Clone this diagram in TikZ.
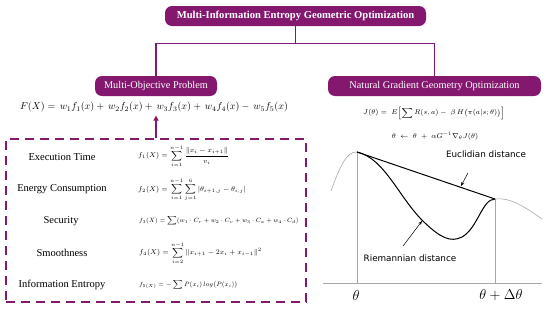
\documentclass[tikz,border=0pt]{standalone}
\usepackage{amsmath}
\usepackage{fontspec}
\setmainfont{Liberation Serif}
\newfontfamily\plotfont{DejaVu Sans}
\usepackage{tikz}
\usetikzlibrary{arrows.meta,positioning,calc}
\definecolor{plum}{HTML}{84186F}
\definecolor{axisgray}{HTML}{A8A8A8}

\begin{document}
\begin{tikzpicture}[x=1pt, y=-1pt,
    headbox/.style={rectangle, fill=plum, text=white, rounded corners=7pt, minimum height=20pt, inner sep=2pt, font=\fontsize{10.3}{12}\selectfont},
    dashbox/.style={rectangle, draw=plum, line width=2pt, dash pattern=on 9pt off 6pt},
    objlabel/.style={font=\fontsize{10.5}{12}\selectfont},
    objfun/.style={anchor=west, inner sep=0pt, font=\fontsize{6.8}{8}\selectfont},
    link/.style={draw=plum, line width=1.3pt},
    pointer/.style={-{Stealth[length=4pt,width=3pt]}, line width=0.5pt}
]
    \useasboundingbox (0,0) rectangle (550,309);

    % Header boxes
    \node[headbox, minimum width=261pt, font=\fontsize{10.6}{12}\selectfont\bfseries] (title) at (295.5,16) {Multi-Information Entropy Geometric Optimization};
    \node[headbox, minimum width=122pt] (mop) at (156,86) {Multi-Objective Problem};
    \node[headbox, minimum width=213pt] (ngo) at (434.5,86) {Natural Gradient Geometry Optimization};

    % Tree connections
    \draw[link] (title.south) -- ++(0,17) coordinate (split);
    \draw[link] (split) -| (mop.north);
    \draw[link] (split) -| (ngo.north);

    % Objective function
    \node[font=\fontsize{10}{12}\selectfont] (fx) at (154,107) {$F(X) = \, w_1 f_1(x) + \, w_2 f_2(x) + \, w_3 f_3(x) + \, w_4 f_4(x) - \, w_5 f_5(x)$};

    % Objectives box
    \node[dashbox, minimum width=300pt, minimum height=163pt] (objbox) at (156,220.5) {};
    \draw[link, -{Triangle[length=5pt,width=5pt]}] (objbox.north) -- (objbox.north |- fx.south);

    \node[objlabel] (obj1) at (62,157) {Execution Time};
    \node[objlabel] (obj2) at (62,189) {Energy Consumption};
    \node[objlabel] (obj3) at (61,221) {Security};
    \node[objlabel] (obj4) at (62,253) {Smoothness};
    \node[objlabel] (obj5) at (62,285) {Information Entropy};

    \node[objfun] (fn1) at (138,156) {$f_1(X) = \displaystyle\sum_{i=1}^{n-1} \frac{\|x_i - x_{i+1}\|}{v_i}$};
    \node[objfun] (fn2) at (138,190) {$f_2(X) = \displaystyle\sum_{i=1}^{n-1}\sum_{j=1}^{6} \left|\theta_{i+1,j} - \theta_{i,j}\right|$};
    \node[objfun] (fn3) at (139,221) {\scalebox{0.88}{$f_3(X) = \displaystyle\sum (w_1\cdot C_r + w_2\cdot C_v + w_3\cdot C_a + w_4\cdot C_d)$}};
    \node[objfun] (fn4) at (139,253) {$f_4(X) = \displaystyle\sum_{i=2}^{n-1} \left\|x_{i+1} - 2x_i + x_{i-1}\right\|^2$};
    \node[objfun] (fn5) at (139,285) {\scalebox{0.9}{$f_{5(X)} = -\displaystyle\sum P(x_i)\, log\bigl(P(x_i)\bigr)$}};

    % Natural gradient formulas
    \node[font=\fontsize{7}{8}\selectfont] (jfun) at (434,113) {$J(\theta) = \; E\Bigl[\displaystyle\sum R(s,a) - \;\beta\, H\bigl(\pi(a|s;\theta)\bigr)\Bigr]$};
    \node[font=\fontsize{7.5}{8}\selectfont] (upd) at (435,136) {$\theta \;\leftarrow\; \theta \;+\; \alpha G^{-1}\nabla_{\theta} J(\theta)$};

    % Geometry plot
    \coordinate (p0) at (357,152);
    \coordinate (p1) at (495,199);
    \draw[axisgray, line width=0.8pt] (323,283) -- (542,283);
    \draw[axisgray, line width=0.4pt] (p0) -- (p0 |- 0,283);
    \draw[axisgray, line width=0.4pt] (p1) -- (p1 |- 0,283);
    \draw[axisgray, line width=0.6pt] (331,191) .. controls (340,166) and (347,151) .. (p0);
    \draw[axisgray, line width=0.6pt] (p1) .. controls (510,197) and (525,207) .. (542,219);
    \draw[line width=1pt] (p0) -- (p1);
    \draw[line width=1pt] (p0) .. controls (385,158) and (400,200) .. (425,223)
        .. controls (440,237) and (450,243) .. (462,237)
        .. controls (478,228) and (482,199) .. (p1);

    \node[font=\fontsize{15}{17}\selectfont] (th0) at (356,295) {$\theta$};
    \node[font=\fontsize{15}{17}\selectfont] (th1) at (501,295) {$\theta+\Delta\theta$};

    \node[font=\plotfont\fontsize{8.8}{10}\selectfont] (eucl) at (486,154) {Euclidian distance};
    \node[font=\plotfont\fontsize{8.8}{10}\selectfont] (riem) at (410,258) {Riemannian distance};
    \coordinate (etip) at (461,186);
    \coordinate (rtip) at (422,221);
    \draw[pointer] ($(eucl.south)+(-18,12)$) -- (etip);
    \draw[pointer] ($(riem.north)+(-7,-5)$) -- (rtip);
\end{tikzpicture}
\end{document}
